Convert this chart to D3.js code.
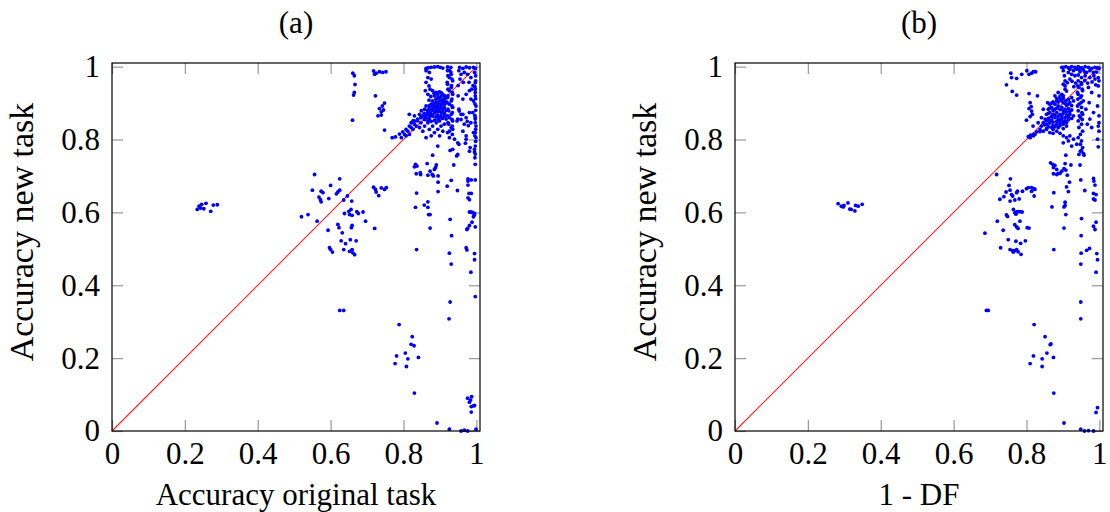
<!DOCTYPE html>
<html>
<head>
<meta charset="utf-8">
<script src="https://cdn.jsdelivr.net/npm/d3@7"></script>
<style>
  body { margin: 0; background: #fff; }
  svg text { font-family: "Liberation Serif", "Times New Roman", Times, "Nimbus Roman", "DejaVu Serif", serif; fill: #000; }
</style>
</head>
<body>
<div id="chart"></div>
<script>
// Chart size and panel layout
const width = 1110;
const height = 512;
const plotTop = 63;
const plotBottom = 431;
const plotSize = 368;
const panelLeft = [112, 735];

// Texts
const titles = ["(a)", "(b)"];
const xLabels = ["Accuracy original task", "1 - DF"];
const yLabel = "Accuracy new task";
const tickValues = [0, 0.2, 0.4, 0.6, 0.8, 1];
const axisMax = 1.01;

// reference line y = x
const diagonal = [[0, 0], [1, 1]];

// (a) accuracy original task vs accuracy new task
const pointsA = [
  [0.234,0.608],[0.239,0.617],[0.246,0.622],[0.252,0.610],[0.258,0.625],[0.271,0.603],[0.278,0.620],[0.289,0.621],[0.243,0.612],
  [0.556,0.704],[0.625,0.692],[0.550,0.661],[0.574,0.658],[0.579,0.654],[0.600,0.674],[0.616,0.651],[0.620,0.656],[0.625,0.661],
  [0.568,0.642],[0.572,0.635],[0.574,0.629],[0.595,0.638],[0.636,0.634],[0.646,0.645],[0.658,0.631],[0.520,0.588],[0.538,0.594],
  [0.563,0.576],[0.593,0.551],[0.620,0.567],[0.623,0.558],[0.632,0.544],[0.638,0.597],[0.650,0.603],[0.656,0.608],[0.652,0.594],
  [0.659,0.592],[0.672,0.602],[0.676,0.597],[0.689,0.601],[0.696,0.576],[0.721,0.556],[0.659,0.564],[0.657,0.558],[0.629,0.522],
  [0.641,0.514],[0.654,0.525],[0.670,0.522],[0.597,0.503],[0.600,0.498],[0.605,0.491],[0.636,0.498],[0.652,0.493],[0.659,0.498],
  [0.666,0.484],[0.661,0.489],
  [0.718,0.669],[0.723,0.663],[0.725,0.656],[0.739,0.667],[0.748,0.663],[0.753,0.668],[0.732,0.646],
  [0.625,0.331],[0.636,0.331],
  [0.661,0.982],[0.665,0.975],[0.667,0.951],[0.665,0.929],[0.663,0.922],[0.660,0.853],
  [0.718,0.988],[0.725,0.982],[0.734,0.986],[0.743,0.984],[0.752,0.986],[0.721,0.979],[0.723,0.920],
  [0.748,0.900],[0.742,0.892],[0.734,0.885],[0.745,0.881],[0.739,0.876],[0.730,0.865],[0.739,0.867],[0.748,0.826],
  [0.769,0.805],[0.778,0.807],[0.789,0.815],[0.798,0.821],[0.807,0.828],[0.816,0.837],[0.821,0.846],[0.830,0.851],[0.839,0.856],
  [0.848,0.860],[0.857,0.865],[0.866,0.869],[0.816,0.869],[0.830,0.865],[0.826,0.851],
  [0.953,0.878],[0.958,0.869],[0.949,0.856],[0.972,0.860],[0.981,0.874],[0.963,0.823],[0.940,0.801],[0.952,0.787],[0.972,0.810],
  [0.972,0.801],[0.983,0.778],[0.997,0.782],[0.997,0.856],[0.997,0.846],[0.995,0.773],[0.997,0.819],[0.985,0.911],[0.981,0.934],
  [0.997,0.956],[0.997,0.938],[0.997,0.929],[0.935,0.828],[0.949,0.791],[0.935,0.773],[0.894,0.782],
  [0.998,0.975],[0.996,0.945],[0.998,0.912],[0.996,0.898],[0.998,0.880],[0.996,0.866],[0.998,0.828],[0.996,0.810],[0.998,0.795],
  [0.996,0.750],[0.975,0.850],[0.978,0.838],[0.970,0.790],
  [0.880,0.757],[0.928,0.770],[0.949,0.759],[0.946,0.755],[0.981,0.768],[0.995,0.766],[0.997,0.760],
  [0.833,0.732],[0.837,0.727],[0.830,0.725],[0.865,0.734],[0.890,0.730],[0.885,0.718],[0.873,0.713],[0.879,0.704],[0.867,0.702],
  [0.882,0.700],[0.895,0.700],[0.895,0.683],[0.846,0.709],[0.835,0.706],[0.847,0.704],[0.888,0.723],
  [0.938,0.730],[0.997,0.732],[0.931,0.688],[0.920,0.672],[0.895,0.657],[0.948,0.660],
  [0.977,0.692],[0.986,0.689],[0.997,0.689],[0.977,0.686],[0.977,0.675],[0.980,0.652],[0.986,0.652],[0.977,0.640],[0.981,0.635],
  [0.836,0.653],[0.833,0.614],[0.857,0.620],[0.867,0.629],[0.867,0.614],[0.869,0.594],[0.873,0.594],
  [0.873,0.557],[0.928,0.581],[0.932,0.536],[0.836,0.498],[0.926,0.488],[0.931,0.458],
  [0.981,0.601],[0.986,0.601],[0.990,0.599],[0.995,0.593],[0.992,0.588],[0.995,0.597],[0.988,0.573],[0.997,0.560],[0.976,0.556],
  [0.974,0.553],[0.981,0.564],[0.972,0.503],[0.974,0.497],[0.995,0.487],[0.995,0.470],[0.985,0.436],
  [0.997,0.369],[0.928,0.354],[0.925,0.308],[0.788,0.292],[0.824,0.259],[0.821,0.238],[0.829,0.234],[0.805,0.214],[0.781,0.206],
  [0.812,0.198],[0.841,0.202],[0.777,0.185],[0.808,0.177],[0.830,0.104],
  [0.976,0.090],[0.987,0.094],[0.981,0.079],[0.986,0.067],[0.992,0.069],[0.995,0.070],[0.986,0.052],[0.984,0.085],
  [0.892,0.022],[0.926,0.005],[0.958,0.000],[0.967,0.002],[0.976,0.000],[0.999,0.005],
  [0.876,0.998],[0.885,0.999],[0.894,1.000],[0.901,0.998],[0.908,0.996],[0.862,0.995],[0.868,0.997],
  [0.921,0.999],[0.930,0.998],[0.926,0.990],
  [0.954,0.998],[0.963,0.995],[0.972,0.999],[0.981,0.997],[0.992,0.998],[0.997,0.995],
  [0.862,0.989],[0.871,0.984],[0.867,0.970],[0.876,0.966],[0.862,0.957],[0.870,0.947],[0.873,0.938],[0.860,0.934],[0.867,0.924],
  [0.921,0.989],[0.931,0.979],[0.926,0.970],[0.935,0.961],[0.921,0.952],[0.931,0.943],[0.926,0.934],[0.935,0.924],[0.921,0.915],
  [0.931,0.906],[0.926,0.897],[0.935,0.888],[0.924,0.879],[0.931,0.869],[0.926,0.860],[0.935,0.851],[0.924,0.842],[0.931,0.833],
  [0.926,0.823],[0.934,0.814],[0.926,0.805],
  [0.930,0.985],[0.922,0.975],[0.933,0.966],[0.920,0.957],[0.932,0.948],[0.922,0.938],[0.934,0.929],[0.922,0.920],[0.933,0.911],
  [0.920,0.901],[0.933,0.892],[0.922,0.883],[0.934,0.874],[0.921,0.865],[0.933,0.855],[0.922,0.846],[0.934,0.837],[0.921,0.819],
  [0.952,0.989],[0.958,0.979],[0.967,0.984],[0.955,0.966],[0.964,0.957],[0.950,0.948],
  [0.976,0.979],[0.985,0.970],[0.995,0.984],[0.980,0.957],[0.991,0.948],[0.998,0.961],[0.987,0.938],
  [0.997,0.920],[0.992,0.906],[0.999,0.892],[0.990,0.874],[0.997,0.860],[0.985,0.846],[0.999,0.837],[0.992,0.819],[0.999,0.805],
  [0.952,0.883],[0.963,0.869],[0.958,0.855],[0.967,0.842],[0.947,0.851],[0.950,0.920],[0.963,0.911],[0.972,0.924],
  [0.880,0.934],[0.890,0.929],[0.899,0.931],[0.908,0.924],[0.885,0.920],[0.894,0.915],[0.903,0.918],[0.912,0.912],[0.880,0.906],
  [0.890,0.903],[0.899,0.906],[0.908,0.901],[0.876,0.897],[0.885,0.892],[0.894,0.894],[0.903,0.890],[0.912,0.888],[0.871,0.885],
  [0.880,0.881],[0.890,0.883],[0.899,0.879],[0.908,0.876],[0.867,0.874],[0.876,0.869],[0.885,0.872],[0.894,0.867],[0.903,0.865],
  [0.912,0.863],[0.853,0.865],[0.862,0.860],[0.871,0.857],[0.844,0.869],[0.849,0.879],[0.858,0.883],[0.862,0.892],
  [0.884,0.927],[0.894,0.924],[0.904,0.928],[0.913,0.920],[0.889,0.911],[0.898,0.913],[0.907,0.909],[0.884,0.899],[0.895,0.898],
  [0.904,0.896],[0.913,0.897],[0.871,0.893],[0.880,0.889],[0.890,0.888],[0.899,0.887],[0.908,0.884],[0.866,0.880],[0.875,0.877],
  [0.885,0.878],[0.894,0.876],[0.904,0.873],[0.913,0.871],[0.857,0.872],[0.871,0.866],[0.880,0.864],[0.889,0.862],[0.898,0.860],
  [0.907,0.858],[0.849,0.862],[0.858,0.855],[0.867,0.852],[0.876,0.850],[0.885,0.853],[0.895,0.855],[0.875,0.918],[0.870,0.908],
  [0.916,0.905],[0.917,0.880],
  [0.794,0.805],[0.803,0.814],[0.812,0.823],[0.807,0.810],[0.821,0.833],[0.830,0.842],[0.826,0.828],[0.839,0.851],[0.835,0.837],
  [0.848,0.846],[0.844,0.833],[0.816,0.814],[0.858,0.837],[0.867,0.846],[0.853,0.823],[0.871,0.828],[0.880,0.837],[0.890,0.846],
  [0.899,0.851],[0.903,0.837],[0.894,0.828],[0.885,0.819],[0.908,0.823],[0.899,0.810],[0.876,0.810],[0.862,0.805],[0.912,0.842],
  [0.917,0.856]
];

// (b) 1 - DF vs accuracy new task
const pointsB = [
  [0.283,0.624],[0.292,0.617],[0.299,0.619],[0.310,0.626],[0.315,0.609],[0.319,0.608],[0.329,0.604],[0.331,0.619],[0.338,0.617],
  [0.349,0.622],[0.297,0.615],
  [0.757,0.982],[0.759,0.970],[0.773,0.968],[0.745,0.950],[0.761,0.932],[0.773,0.922],[0.787,0.979],[0.801,0.989],[0.807,0.979],
  [0.814,0.982],[0.819,0.986],[0.825,0.986],[0.807,0.926],[0.830,0.920],
  [0.810,0.901],[0.813,0.890],[0.807,0.885],[0.814,0.878],[0.816,0.869],[0.810,0.863],[0.800,0.853],[0.818,0.837],
  [0.810,0.805],[0.819,0.810],[0.823,0.814],[0.837,0.822],[0.855,0.830],[0.846,0.883],[0.858,0.901],
  [0.718,0.704],[0.756,0.692],[0.752,0.674],[0.744,0.656],[0.755,0.661],[0.759,0.649],[0.762,0.645],[0.775,0.658],[0.773,0.654],
  [0.738,0.643],[0.727,0.636],[0.755,0.631],[0.768,0.634],[0.780,0.637],[0.789,0.658],[0.800,0.665],[0.805,0.668],[0.814,0.668],
  [0.821,0.665],[0.823,0.663],[0.814,0.658],[0.821,0.645],
  [0.764,0.608],[0.773,0.601],[0.777,0.602],[0.782,0.602],[0.788,0.601],[0.771,0.595],[0.768,0.599],[0.745,0.593],[0.748,0.589],
  [0.720,0.576],[0.782,0.576],[0.736,0.551],[0.768,0.566],[0.773,0.560],[0.777,0.556],[0.802,0.558],[0.807,0.557],[0.686,0.543],
  [0.750,0.525],[0.771,0.521],[0.784,0.515],[0.797,0.522],[0.729,0.503],[0.755,0.498],[0.762,0.495],[0.768,0.495],[0.773,0.498],
  [0.777,0.492],[0.764,0.491],[0.785,0.485],
  [0.908,0.757],[0.866,0.736],[0.872,0.732],[0.878,0.729],[0.874,0.723],[0.883,0.718],[0.887,0.707],[0.892,0.707],[0.897,0.713],
  [0.903,0.720],[0.908,0.716],[0.906,0.734],[0.922,0.730],[0.874,0.706],[0.883,0.704],[0.912,0.702],[0.918,0.683],[0.910,0.670],
  [0.915,0.657],[0.875,0.654],[0.906,0.628],[0.906,0.619],[0.903,0.615],[0.870,0.615],[0.908,0.594],[0.903,0.557],[0.875,0.498],
  [0.947,0.730],[0.949,0.689],[0.960,0.660],[0.951,0.583],[0.950,0.536],[0.950,0.488],[0.949,0.458],[0.965,0.496],[0.973,0.501],
  [0.984,0.693],[0.985,0.686],[0.988,0.675],[0.984,0.652],[0.991,0.649],[0.984,0.637],[0.988,0.634],[0.991,0.573],[0.984,0.562],
  [0.988,0.553],[0.993,0.487],[0.995,0.470],[0.991,0.436],[0.951,0.770],[0.956,0.762],[0.958,0.757],
  [0.690,0.331],[0.695,0.331],[0.949,0.354],[0.949,0.308],[0.821,0.292],[0.851,0.259],[0.865,0.237],[0.867,0.239],[0.856,0.214],
  [0.819,0.206],[0.843,0.198],[0.874,0.202],[0.810,0.185],[0.843,0.177],[0.875,0.104],[0.991,0.051],[0.995,0.064],[0.903,0.022],
  [0.949,0.005],[0.959,0.000],[0.970,0.001],[0.984,0.000],
  [0.901,0.998],[0.908,1.000],[0.915,0.997],[0.924,1.000],[0.933,0.998],[0.942,1.000],[0.951,0.997],[0.961,1.000],[0.970,0.998],
  [0.979,0.995],[0.988,0.998],[0.995,0.997],[0.999,0.995],
  [0.919,0.993],[0.929,0.989],[0.938,0.993],[0.947,0.986],[0.956,0.991],[0.965,0.984],[0.974,0.989],[0.984,0.984],[0.924,0.979],
  [0.933,0.975],[0.942,0.977],[0.951,0.970],[0.961,0.975],[0.974,0.970],[0.988,0.966],[0.997,0.970],[0.919,0.966],[0.912,0.956],
  [0.906,0.947],[0.910,0.933],[0.901,0.920],[0.908,0.906],[0.915,0.984],
  [0.925,0.960],[0.935,0.955],[0.930,0.945],[0.960,0.962],[0.968,0.955],[0.980,0.958],[0.990,0.950],[0.985,0.975],[0.993,0.985],
  [0.960,0.985],[0.945,0.993],
  [0.897,0.998],[0.901,0.989],[0.904,0.975],[0.906,0.961],[0.901,0.952],[0.906,0.938],
  [0.864,0.897],[0.873,0.903],[0.883,0.906],[0.892,0.911],[0.901,0.901],[0.910,0.894],[0.919,0.901],[0.929,0.906],[0.860,0.883],
  [0.869,0.888],[0.878,0.883],[0.887,0.892],[0.897,0.888],[0.906,0.883],[0.915,0.885],[0.924,0.881],[0.855,0.869],[0.864,0.874],
  [0.873,0.869],[0.883,0.874],[0.892,0.869],[0.901,0.872],[0.910,0.867],[0.919,0.869],[0.929,0.865],[0.851,0.856],[0.860,0.858],
  [0.869,0.854],[0.878,0.860],[0.887,0.856],[0.897,0.858],[0.906,0.851],[0.915,0.854],[0.846,0.846],[0.855,0.842],[0.864,0.845],
  [0.873,0.839],[0.883,0.842],[0.892,0.846],[0.901,0.842],[0.878,0.920],[0.887,0.929],[0.897,0.924],[0.873,0.828],[0.887,0.833],
  [0.901,0.830],[0.910,0.837],
  [0.869,0.900],[0.878,0.897],[0.887,0.903],[0.897,0.906],[0.906,0.899],[0.915,0.897],[0.924,0.893],[0.864,0.886],[0.873,0.880],
  [0.883,0.886],[0.892,0.882],[0.901,0.879],[0.910,0.876],[0.919,0.877],[0.860,0.872],[0.869,0.863],[0.878,0.867],[0.887,0.864],
  [0.897,0.865],[0.906,0.860],[0.915,0.862],[0.924,0.858],[0.855,0.852],[0.864,0.850],[0.873,0.848],[0.883,0.850],[0.892,0.852],
  [0.901,0.849],[0.910,0.846],[0.850,0.840],[0.860,0.835],[0.869,0.833],[0.878,0.835],[0.892,0.838],[0.883,0.913],[0.892,0.918],
  [0.901,0.913],[0.915,0.910],[0.924,0.915],
  [0.942,0.961],[0.951,0.952],[0.944,0.943],[0.954,0.934],[0.942,0.924],[0.948,0.915],[0.956,0.906],[0.944,0.897],[0.951,0.888],
  [0.942,0.879],[0.954,0.869],[0.948,0.860],[0.942,0.851],[0.951,0.842],[0.944,0.833],[0.954,0.823],[0.948,0.814],[0.942,0.805],
  [0.951,0.796],[0.948,0.787],[0.954,0.778],[0.948,0.768],[0.944,0.759],
  [0.950,0.956],[0.941,0.947],[0.953,0.938],[0.940,0.929],[0.951,0.920],[0.941,0.911],[0.950,0.901],[0.940,0.892],[0.952,0.874],
  [0.945,0.865],[0.953,0.855],
  [0.970,0.943],[0.979,0.929],[0.984,0.874],[0.974,0.856],[0.967,0.842],[0.979,0.833],[0.963,0.883],[0.972,0.901],
  [0.999,0.961],[0.997,0.947],[0.999,0.920],[0.995,0.892],[0.999,0.865],[0.999,0.846],[0.997,0.837],[0.999,0.823],[0.995,0.801],
  [0.997,0.780],
  [0.805,0.808],[0.811,0.812],[0.819,0.814],[0.828,0.821],[0.837,0.828],[0.841,0.837],[0.846,0.823],[0.855,0.828],[0.864,0.819],
  [0.873,0.817],[0.883,0.823],[0.892,0.817],[0.901,0.810],[0.910,0.805],[0.919,0.810],[0.929,0.801],[0.832,0.846],[0.841,0.860],
  [0.901,0.791],[0.915,0.796],[0.924,0.782],[0.938,0.787]
];

const panels = [pointsA, pointsB];

const svg = d3.select("#chart")
  .append("svg")
  .attr("width", width)
  .attr("height", height)
  .attr("viewBox", [0, 0, width, height]);

panels.forEach(function(points, i) {
  const left = panelLeft[i];

  const xScale = d3.scaleLinear()
    .domain([0, axisMax])
    .range([left, left + plotSize]);

  const yScale = d3.scaleLinear()
    .domain([0, axisMax])
    .range([plotBottom, plotTop]);

  const g = svg.append("g");

  // ticks on all four sides, pointing inward; labels only bottom and left
  g.append("g")
    .attr("transform", `translate(0,${plotBottom})`)
    .call(d3.axisBottom(xScale).tickValues(tickValues).tickSize(-11).tickPadding(11)
      .tickFormat(d3.format("~g")))
    .call(ax => ax.select(".domain").remove())
    .attr("font-size", "31px")
    .attr("font-family", null);

  g.append("g")
    .attr("transform", `translate(0,${plotTop})`)
    .call(d3.axisTop(xScale).tickValues(tickValues).tickSize(-11).tickFormat(""))
    .call(ax => ax.select(".domain").remove());

  g.append("g")
    .attr("transform", `translate(${left},0)`)
    .call(d3.axisLeft(yScale).tickValues(tickValues).tickSize(-11).tickPadding(12)
      .tickFormat(d3.format("~g")))
    .call(ax => ax.select(".domain").remove())
    .attr("font-size", "31px")
    .attr("font-family", null);

  g.append("g")
    .attr("transform", `translate(${left + plotSize},0)`)
    .call(d3.axisRight(yScale).tickValues(tickValues).tickSize(-11).tickFormat(""))
    .call(ax => ax.select(".domain").remove());

  g.selectAll(".tick line")
    .attr("stroke", "#999")
    .attr("stroke-width", 1.2);

  // red diagonal under the points
  g.append("path")
    .datum(diagonal)
    .attr("fill", "none")
    .attr("stroke", "#ff2020")
    .attr("stroke-width", 1.1)
    .attr("d", d3.line().x(d => xScale(d[0])).y(d => yScale(d[1])));

  g.selectAll(".dot")
    .data(points)
    .enter()
    .append("circle")
      .attr("class", "dot")
      .attr("cx", d => xScale(d[0]))
      .attr("cy", d => yScale(d[1]))
      .attr("r", 1.9)
      .attr("fill", "#0000ff");

  // axis box
  g.append("rect")
    .attr("x", left)
    .attr("y", plotTop)
    .attr("width", plotSize)
    .attr("height", plotBottom - plotTop)
    .attr("fill", "none")
    .attr("stroke", "#000")
    .attr("stroke-width", 1.2);

  g.append("text")
    .attr("x", left + plotSize / 2)
    .attr("y", 33)
    .attr("text-anchor", "middle")
    .attr("font-size", "31px")
    .text(titles[i]);

  g.append("text")
    .attr("x", left + plotSize / 2)
    .attr("y", 505)
    .attr("text-anchor", "middle")
    .attr("font-size", "31px")
    .text(xLabels[i]);

  g.append("text")
    .attr("transform", `translate(${left - 79},232) rotate(-90)`)
    .attr("text-anchor", "middle")
    .attr("font-size", "34px")
    .text(yLabel);
});
</script>
</body>
</html>
